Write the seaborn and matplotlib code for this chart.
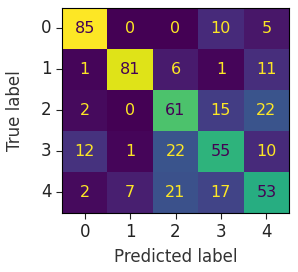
import numpy as np
import pandas as pd
import matplotlib
matplotlib.use("Agg")
import matplotlib.pyplot as plt
import seaborn as sns

# confusion matrix values
labels = ["0", "1", "2", "3", "4"]
row0 = [85, 0, 0, 10, 5]
row1 = [1, 81, 6, 1, 11]
row2 = [2, 0, 61, 15, 22]
row3 = [12, 1, 22, 55, 10]
row4 = [2, 7, 21, 17, 53]

cm = pd.DataFrame([row0, row1, row2, row3, row4], index=labels, columns=labels)

fig = plt.figure(figsize=(2.98, 2.72), dpi=100)
ax = fig.add_axes([0.208, 0.217, 0.762, 0.754])

cmap = plt.get_cmap("viridis")
sns.heatmap(cm, cmap=cmap, cbar=False, annot=True, fmt="d", ax=ax,
            annot_kws={"fontsize": 11.5})

# text colour like sklearn: dark on bright cells, yellow on dark ones
thresh = (cm.values.max() + cm.values.min()) / 2.0
for t in ax.texts:
    v = int(t.get_text())
    t.set_color(cmap(0.0) if v > thresh else cmap(1.0))

for s in ax.spines.values():
    s.set_visible(True)
    s.set_color("black")
    s.set_linewidth(0.8)

ax.tick_params(axis="both", length=4, labelsize=12, colors="#222222")
ax.set_yticklabels(labels, rotation=0)
ax.set_xticklabels(labels, rotation=0)
ax.set_xlabel("Predicted label", fontsize=12, color="#333333", labelpad=5)
ax.set_ylabel("True label", fontsize=12, color="#333333", labelpad=12)

fig.savefig("out.png", dpi=100)
